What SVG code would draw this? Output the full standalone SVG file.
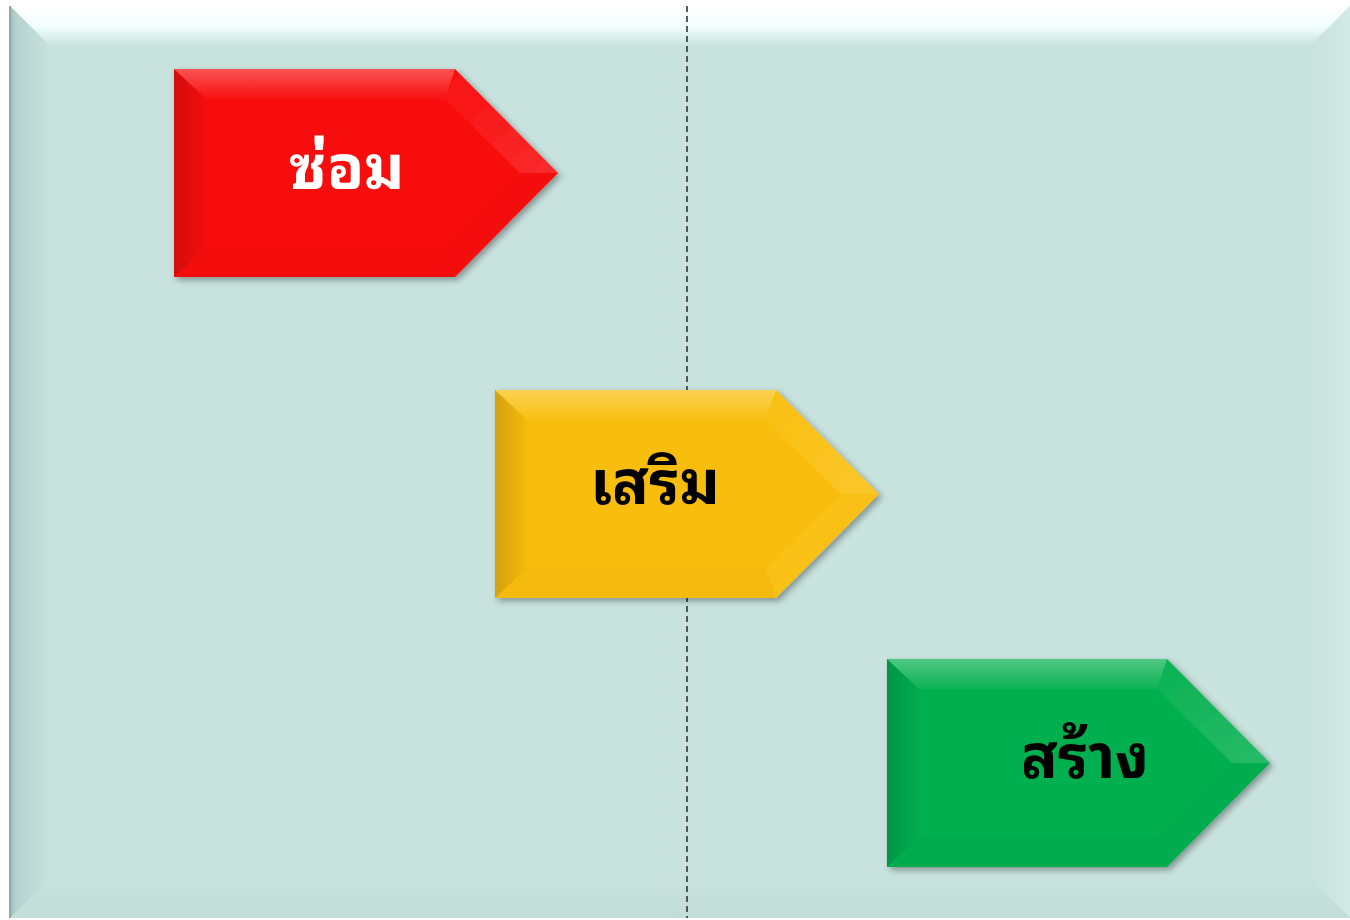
<svg xmlns="http://www.w3.org/2000/svg" width="1350" height="920" viewBox="0 0 1350 920">
<style>
.lbl{font-family:"Noto Sans Thai Looped","Noto Serif Thai","Noto Sans Thai","DejaVu Sans",sans-serif;font-weight:bold;font-size:61px;text-anchor:middle}
.hi{fill:#fff}
.sh{fill:#000}
</style>
<defs>
<linearGradient id="bgTop" x1="0" y1="0" x2="0" y2="1"><stop offset="0" stop-color="#ffffff"/><stop offset="0.5" stop-color="#f2fffc"/><stop offset="1" stop-color="#c9e3df"/></linearGradient>
<linearGradient id="bgLeft" x1="0" y1="0" x2="1" y2="0"><stop offset="0" stop-color="#9fbdb9"/><stop offset="0.15" stop-color="#b6d2ce"/><stop offset="1" stop-color="#c8e2de"/></linearGradient>
<linearGradient id="bgRight" x1="0" y1="0" x2="1" y2="0"><stop offset="0" stop-color="#c8e2de"/><stop offset="1" stop-color="#d2e9e5"/></linearGradient>
<linearGradient id="bgBot" x1="0" y1="0" x2="0" y2="1"><stop offset="0" stop-color="#c8e2de"/><stop offset="1" stop-color="#c2dcd8"/></linearGradient>
<linearGradient id="lDark" x1="0" y1="0" x2="1" y2="0"><stop offset="0" stop-color="#000" stop-opacity="0.15"/><stop offset="1" stop-color="#000" stop-opacity="0.02"/></linearGradient>
<linearGradient id="tLight" x1="0" y1="0" x2="0" y2="1"><stop offset="0" stop-color="#fff" stop-opacity="0.3"/><stop offset="1" stop-color="#fff" stop-opacity="0.03"/></linearGradient>
<linearGradient id="rLight" x1="0" y1="0" x2="1" y2="1"><stop offset="0" stop-color="#fff" stop-opacity="0.02"/><stop offset="1" stop-color="#fff" stop-opacity="0.14"/></linearGradient>
<filter id="ds" x="-10%" y="-10%" width="125%" height="125%"><feDropShadow dx="3" dy="3" stdDeviation="3" flood-color="#000" flood-opacity="0.35"/></filter>
</defs>

<g id="background">
<rect x="10" y="6" width="1340" height="912" fill="#c8e2de"/>
<polygon points="10,6 1350,6 1310,46 50,46" fill="url(#bgTop)"/>
<polygon points="10,6 50,46 50,878 10,918" fill="url(#bgLeft)"/>
<polygon points="1350,6 1350,918 1310,878 1310,46" fill="url(#bgRight)"/>
<polygon points="10,918 50,878 1310,878 1350,918" fill="url(#bgBot)"/>
<line x1="10" y1="6" x2="10" y2="918" stroke="#8fa9a5" stroke-width="2"/>
</g>

<g id="connectors">
<line x1="687" y1="6" x2="687" y2="918" stroke="#333" stroke-width="1.6" stroke-dasharray="6,4"/>
</g>

<g id="node-repair" filter="url(#ds)">
<polygon points="174,69 455,69 558,173 455,277 174,277" fill="#f80a0a"/>
<polygon points="174,69 455,69 445,99 206,99" fill="url(#tLight)"/>
<polygon points="174,69 206,99 206,247 174,277" fill="url(#lDark)"/>
<polygon points="174,277 206,247 445,247 455,277" fill="#000" fill-opacity="0.02"/>
<polygon points="455,69 558,173 520,173 445,99" fill="url(#rLight)"/>
<polygon points="520,173 558,173 455,277 445,247" fill="#000" fill-opacity="0.02"/>
<text class="lbl hi" x="347" y="189">ซ่อม</text>
</g>

<g id="node-enhance" filter="url(#ds)">
<polygon points="495,390 776,390 879,494 776,598 495,598" fill="#f9be0a"/>
<polygon points="495,390 776,390 766,420 527,420" fill="url(#tLight)"/>
<polygon points="495,390 527,420 527,568 495,598" fill="url(#lDark)"/>
<polygon points="495,598 527,568 766,568 776,598" fill="#000" fill-opacity="0.02"/>
<polygon points="776,390 879,494 841,494 766,420" fill="url(#rLight)"/>
<polygon points="841,494 879,494 776,598 766,568" fill="#fff" fill-opacity="0.05"/>
<text class="lbl sh" x="655" y="504">เสริม</text>
</g>

<g id="node-build" filter="url(#ds)">
<polygon points="887,659 1167,659 1270,763 1167,867 887,867" fill="#05b050"/>
<polygon points="887,659 1167,659 1157,689 919,689" fill="url(#tLight)"/>
<polygon points="887,659 919,689 919,837 887,867" fill="url(#lDark)"/>
<polygon points="887,867 919,837 1157,837 1167,867" fill="#000" fill-opacity="0.02"/>
<polygon points="1167,659 1270,763 1232,763 1157,689" fill="url(#rLight)"/>
<polygon points="1232,763 1270,763 1167,867 1157,837" fill="#000" fill-opacity="0.02"/>
<text class="lbl sh" x="1085" y="778">สร้าง</text>
</g>
</svg>
